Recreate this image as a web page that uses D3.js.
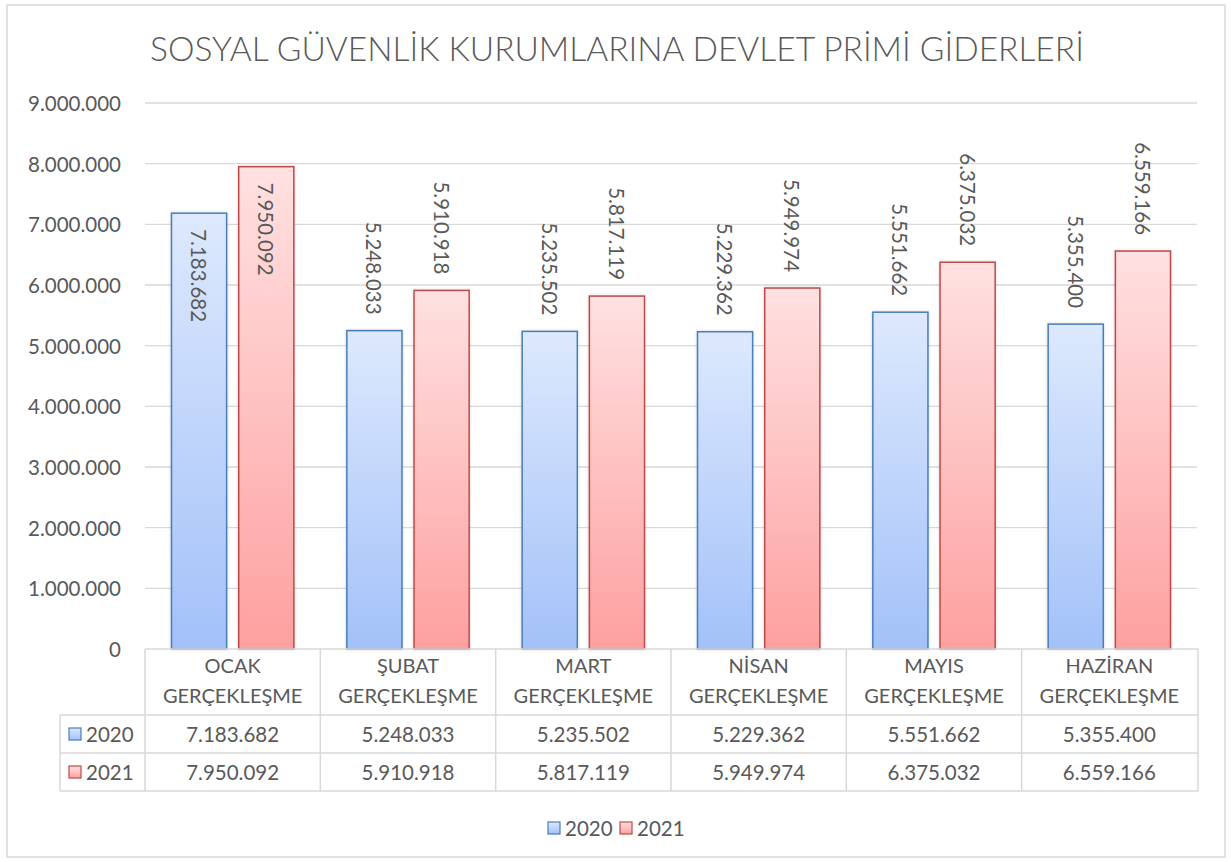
<!DOCTYPE html>
<html>
<head>
<meta charset="utf-8">
<script src="https://cdn.jsdelivr.net/npm/d3@7"></script>
<style>
  body { margin: 0; background: #fff; }
  text { font-family: Lato, "Open Sans", sans-serif; fill: #595959; }
</style>
</head>
<body>
<svg id="chart" width="1231" height="862"></svg>
<script>
const months = ["OCAK", "ŞUBAT", "MART", "NİSAN", "MAYIS", "HAZİRAN"];
const rowSuffix = "GERÇEKLEŞME";
const seriesNames = ["2020", "2021"];
const values2020 = [7183682, 5248033, 5235502, 5229362, 5551662, 5355400];
const values2021 = [7950092, 5910918, 5817119, 5949974, 6375032, 6559166];
const yTicks = [0, 1000000, 2000000, 3000000, 4000000, 5000000, 6000000, 7000000, 8000000, 9000000];
const chartTitle = "SOSYAL GÜVENLİK KURUMLARINA DEVLET PRİMİ GİDERLERİ";

const seriesValues = [values2020, values2021];
const colours = [
    {top: "#dde9fd", bottom: "#a3c1f9", stroke: "#4a7ebb"},
    {top: "#ffe1e1", bottom: "#fea0a0", stroke: "#be4b48"}
];

const locale = d3.formatLocale({decimal: ",", thousands: ".", grouping: [3], currency: ["", ""]});
const fmt = locale.format(",d");

const svg = d3.select("#chart");
const grey = "#d9d9d9";

// outer frame
svg.append("rect")
    .attr("x", 7).attr("y", 5)
    .attr("width", 1218).attr("height", 852)
    .attr("fill", "white")
    .attr("stroke", grey)
    .attr("stroke-width", 1.5);

const defs = svg.append("defs");
colours.forEach((c, i) => {
    const g = defs.append("linearGradient")
        .attr("id", "grad" + i)
        .attr("x1", "0%").attr("x2", "0%")
        .attr("y1", "0%").attr("y2", "100%");
    g.append("stop").attr("offset", "0%").style("stop-color", c.top);
    g.append("stop").attr("offset", "100%").style("stop-color", c.bottom);
});
const shadow = defs.append("filter").attr("id", "shadow")
    .attr("x", "-20%").attr("y", "-5%").attr("width", "140%").attr("height", "110%");
shadow.append("feDropShadow")
    .attr("dx", 0).attr("dy", 0).attr("stdDeviation", 1.5)
    .attr("flood-color", "#000").attr("flood-opacity", 0.18);

svg.append("text")
    .attr("x", 617).attr("y", 61)
    .attr("text-anchor", "middle")
    .attr("font-size", 33.5)
    .attr("font-weight", 300)
    .text(chartTitle);

const plotLeft = 145, plotRight = 1197, plotTop = 103, plotBottom = 649;

const yScale = d3.scaleLinear()
    .domain([0, 9000000])
    .range([plotBottom, plotTop]);

const xScale = d3.scaleBand()
    .domain(months)
    .range([plotLeft, plotRight]);

const step = xScale.bandwidth();
const xInner = d3.scaleBand()
    .domain(seriesNames)
    .range([26.5, step - 26.5])
    .paddingInner(0.18);

// gridlines
svg.selectAll(".grid")
    .data(yTicks.filter(d => d > 0))
    .join("line")
    .attr("class", "grid")
    .attr("x1", plotLeft).attr("x2", plotRight)
    .attr("y1", d => yScale(d)).attr("y2", d => yScale(d))
    .attr("stroke", grey)
    .attr("stroke-width", 1.3);

svg.selectAll(".ytick")
    .data(yTicks)
    .join("text")
    .attr("class", "ytick")
    .attr("x", 121)
    .attr("y", d => yScale(d))
    .attr("text-anchor", "end")
    .attr("dominant-baseline", "central")
    .attr("font-size", 20.5)
    .text(d => fmt(d));

// bars
const barData = [];
seriesNames.forEach((s, si) => {
    months.forEach((m, mi) => barData.push({series: s, si, month: m, value: seriesValues[si][mi]}));
});

svg.selectAll(".bar")
    .data(barData)
    .join("rect")
    .attr("class", "bar")
    .attr("x", d => xScale(d.month) + xInner(d.series))
    .attr("y", d => yScale(d.value))
    .attr("width", xInner.bandwidth())
    .attr("height", d => yScale(0) - yScale(d.value))
    .attr("fill", d => `url(#grad${d.si})`)
    .attr("stroke", d => colours[d.si].stroke)
    .attr("stroke-width", 1.5)
    .attr("filter", "url(#shadow)");

// data labels, rotated; outside end unless it would not fit under the plot top
svg.selectAll(".label")
    .data(barData)
    .join("text")
    .attr("class", "label")
    .attr("font-size", 20.5)
    .attr("dominant-baseline", "central")
    .text(d => fmt(d.value))
    .each(function(d) {
        const len = this.getComputedTextLength();
        const cx = xScale(d.month) + xInner(d.series) + xInner.bandwidth() / 2;
        const top = yScale(d.value);
        let start = top - 16 - len;
        if (start < plotTop + 20) start = top + 16;
        d3.select(this).attr("transform", `translate(${cx},${start}) rotate(90)`);
    });

// data table
const rowTop = plotBottom, headerH = 66, rowH = 38;
const tableLeft = 60;
const rowsY = [rowTop + headerH, rowTop + headerH + rowH, rowTop + headerH + 2 * rowH];

const table = svg.append("g");
table.append("line")
    .attr("x1", plotLeft).attr("x2", plotRight + 1)
    .attr("y1", rowTop).attr("y2", rowTop);
rowsY.forEach(y => table.append("line")
    .attr("x1", tableLeft).attr("x2", plotRight + 1)
    .attr("y1", y).attr("y2", y));
months.forEach(m => table.append("line")
    .attr("x1", xScale(m)).attr("x2", xScale(m))
    .attr("y1", rowTop).attr("y2", rowsY[2]));
table.append("line")
    .attr("x1", plotRight + 1).attr("x2", plotRight + 1)
    .attr("y1", rowTop).attr("y2", rowsY[2]);
table.append("line")
    .attr("x1", tableLeft).attr("x2", tableLeft)
    .attr("y1", rowsY[0]).attr("y2", rowsY[2]);
table.selectAll("line").attr("stroke", grey).attr("stroke-width", 1.5);

table.selectAll(".head1")
    .data(months)
    .join("text")
    .attr("x", d => xScale(d) + step / 2)
    .attr("y", rowTop + 16)
    .attr("text-anchor", "middle")
    .attr("dominant-baseline", "central")
    .attr("font-size", 20)
    .text(d => d);
table.selectAll(".head2")
    .data(months)
    .join("text")
    .attr("x", d => xScale(d) + step / 2)
    .attr("y", rowTop + 46)
    .attr("text-anchor", "middle")
    .attr("dominant-baseline", "central")
    .attr("font-size", 20)
    .text(rowSuffix);

seriesNames.forEach((s, si) => {
    const cy = rowsY[si] + rowH / 2;
    table.selectAll(".cell" + si)
        .data(months)
        .join("text")
        .attr("x", d => xScale(d) + step / 2)
        .attr("y", cy)
        .attr("text-anchor", "middle")
        .attr("dominant-baseline", "central")
        .attr("font-size", 20.5)
        .text((d, i) => fmt(seriesValues[si][i]));
    table.append("rect")
        .attr("x", 69).attr("y", cy - 6)
        .attr("width", 12).attr("height", 12)
        .attr("fill", `url(#grad${si})`)
        .attr("stroke", colours[si].stroke)
        .attr("stroke-width", 1.2);
    table.append("text")
        .attr("x", 86).attr("y", cy)
        .attr("dominant-baseline", "central")
        .attr("font-size", 20.5)
        .text(s);
});

// legend
const legend = svg.append("g");
const legendItems = [{x: 548, s: 0}, {x: 620, s: 1}];
legendItems.forEach(({x, s}) => {
    legend.append("rect")
        .attr("x", x).attr("y", 822)
        .attr("width", 12).attr("height", 12)
        .attr("fill", `url(#grad${s})`)
        .attr("stroke", colours[s].stroke)
        .attr("stroke-width", 1.2);
    legend.append("text")
        .attr("x", x + 17).attr("y", 828)
        .attr("dominant-baseline", "central")
        .attr("font-size", 20.5)
        .text(seriesNames[s]);
});
</script>
</body>
</html>
